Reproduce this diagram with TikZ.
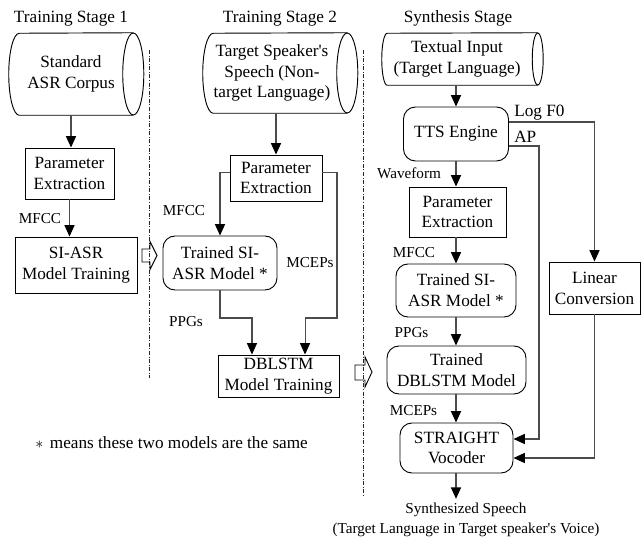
\documentclass[tikz,border=0pt]{standalone}
\usepackage{fontspec}
\setmainfont{Liberation Serif}
\usetikzlibrary{arrows.meta,calc}
\tikzset{
 mainf/.style={font=\fontsize{12.9pt}{15.6pt}\selectfont},
 labf/.style={font=\fontsize{11.4pt}{15pt}\selectfont},
 sz/.style 2 args={minimum width={#1*0.75pt}, minimum height={#2*0.75pt}},
 plainbox/.style={draw=black, line width=0.7pt, rectangle, inner sep=0pt, align=center, mainf},
 roundbox/.style={plainbox, rounded corners=9pt},
 cylbody/.style={inner sep=0pt, align=center, mainf},
 cylline/.style={draw=black, line width=0.7pt},
 conn/.style={draw=black!70, line width=0.8pt},
 arr/.style={conn, -{Triangle[length=8.5pt,width=7.5pt,color=black]}},
 lab/.style={labf, inner sep=0pt},
 sepline/.style={draw=black!85, line width=0.7pt, dash pattern=on 3pt off 1.2pt on 0.7pt off 1.2pt},
 hollow/.style={draw=black, line width=0.7pt},
}
\newcommand\cylout[4]{%
 \draw[cylline] ([xshift=#2]#1.south west) arc[start angle=270,end angle=90,x radius=#2,y radius=#3] -- ([xshift=#4]#1.north east) ([xshift=#4]#1.south east) -- ([xshift=#2]#1.south west);
 \draw[cylline] ([xshift=#4]#1.east) ellipse[x radius=#2,y radius=#3];
}
\begin{document}
\begin{tikzpicture}[x=0.75pt,y=-0.75pt]
\path[use as bounding box] (0,0) rectangle (643,538);

% headers
\node[mainf, anchor=base] (h1) at (71,23) {Training Stage 1};
\node[mainf, anchor=base] (h2) at (280,23) {Training Stage 2};
\node[mainf, anchor=base] (h3) at (458,23) {Synthesis Stage};

% cylinders
\node[cylbody, sz={124}{82}] (c1) at (71,74) {Standard\\ASR Corpus};
\cylout{c1}{7.9pt}{30.75pt}{0pt}
\node[cylbody, sz={138}{80}] (c2) at (272,73) {Target Speaker\textquotesingle s\\Speech (Non-\\target Language)};
\cylout{c2}{7.9pt}{30pt}{4.5pt}
\node[cylbody, sz={150}{52}] (c3) at (457,59) {Textual Input\\(Target Language)};
\cylout{c3}{4.1pt}{19.5pt}{4.1pt}

% stage 1
\node[plainbox, sz={89}{51}] (pe1) at (69.5,173.5) {Parameter\\Extraction};
\node[plainbox, sz={122}{56}] (sit) at (76,265) {SI-ASR\\Model Training};

% stage 2
\node[plainbox, sz={92}{46}] (pe2) at (276,178) {Parameter\\Extraction};
\node[roundbox, sz={114}{54}] (sia2) at (220,263) {Trained SI-\\ASR Model *};
\node[plainbox, sz={121}{42}] (dbt) at (278.5,376) {DBLSTM\\Model Training};

% synthesis
\node[roundbox, sz={105}{54}] (tts) at (456,134) {TTS Engine};
\node[plainbox, sz={97}{50}] (pe3) at (457.5,212) {Parameter\\Extraction};
\node[roundbox, sz={120}{53}] (sia3) at (456,290.5) {Trained SI-\\ASR Model *};
\node[roundbox, sz={139}{48}] (db3) at (456.5,370) {Trained\\DBLSTM Model};
\node[roundbox, sz={113}{50}] (voc) at (456.5,448) {STRAIGHT\\Vocoder};
\node[plainbox, sz={91}{52}] (lin) at (594.5,288) {Linear\\Conversion};
\node[labf, align=center, inner sep=0pt] (out) at (466,520) {Synthesized Speech\\(Target Language in Target speaker\textquotesingle s Voice)};

% labels
\node[lab] (l1) at (40,219) {MFCC};
\node[lab] (l2) at (184,211) {MFCC};
\node[lab] (l3) at (186,322) {PPGs};
\node[lab] (l4) at (310,263) {MCEPs};
\node[lab] (l5) at (409,173) {Waveform};
\node[lab] (l6) at (414,253) {MFCC};
\node[lab] (l7) at (411.5,333) {PPGs};
\node[lab] (l8) at (413.5,411) {MCEPs};
\node[mainf, anchor=base west, inner sep=0pt] (lf0) at (514,117) {Log F0};
\node[mainf, anchor=base west, inner sep=0pt] (lap) at (514,143) {AP};
\node[mainf, anchor=base west, inner sep=0pt] (fn) at (35,448) {$\ast$\hspace{5pt}means these two models are the same};

% separators
\draw[sepline] (149,50) -- (149,378);
\draw[sepline] (363,50) -- (363,496);

% hollow arrows
\draw[hollow] (142,249) -- (150,249) -- (150,241.5) -- (157,255.5) -- (150,269.5) -- (150,262) -- (142,262) -- cycle;
\draw[hollow] (355,365) -- (365,365) -- (365,357) -- (372,372) -- (365,387) -- (365,380) -- (355,380) -- cycle;

% connectors stage 1
\draw[arr] (c1.south) -- (c1.south |- pe1.north);
\draw[arr] (pe1.south) -- (pe1.south |- sit.north);

% connectors stage 2
\coordinate (mk) at (337,318);
\draw[arr] (pe2.north |- c2.south) -- (pe2.north);
\draw[arr] ([yshift=4pt]pe2.west) -| (sia2.north);
\draw[arr] ([yshift=4pt]pe2.east) -| (mk) -| ([xshift=19.9pt]dbt.north);
\draw[arr] (sia2.south) -- (sia2.south |- mk) -| ([xshift=-19.9pt]dbt.north);

% connectors synthesis
\coordinate (apc) at (539,300);
\draw[arr] (tts.north |- c3.south) -- (tts.north);
\draw[arr] (tts.south) -- (tts.south |- pe3.north);
\draw[arr] (tts.south |- pe3.south) -- (tts.south |- sia3.north);
\draw[arr] (sia3.south) -- (sia3.south |- db3.north);
\draw[arr] (sia3.south |- db3.south) -- (sia3.south |- voc.north);
\draw[arr] (sia3.south |- voc.south) -- ([yshift=3pt]sia3.south |- out.north);
\draw[arr] ([yshift=9pt]tts.east) -| (lin.north);
\draw[arr] ([yshift=-9pt]tts.east) -| (apc) |- ([yshift=6.75pt]voc.east);
\draw[arr] (lin.south) |- ([yshift=-7.5pt]voc.east);
\end{tikzpicture}
\end{document}
